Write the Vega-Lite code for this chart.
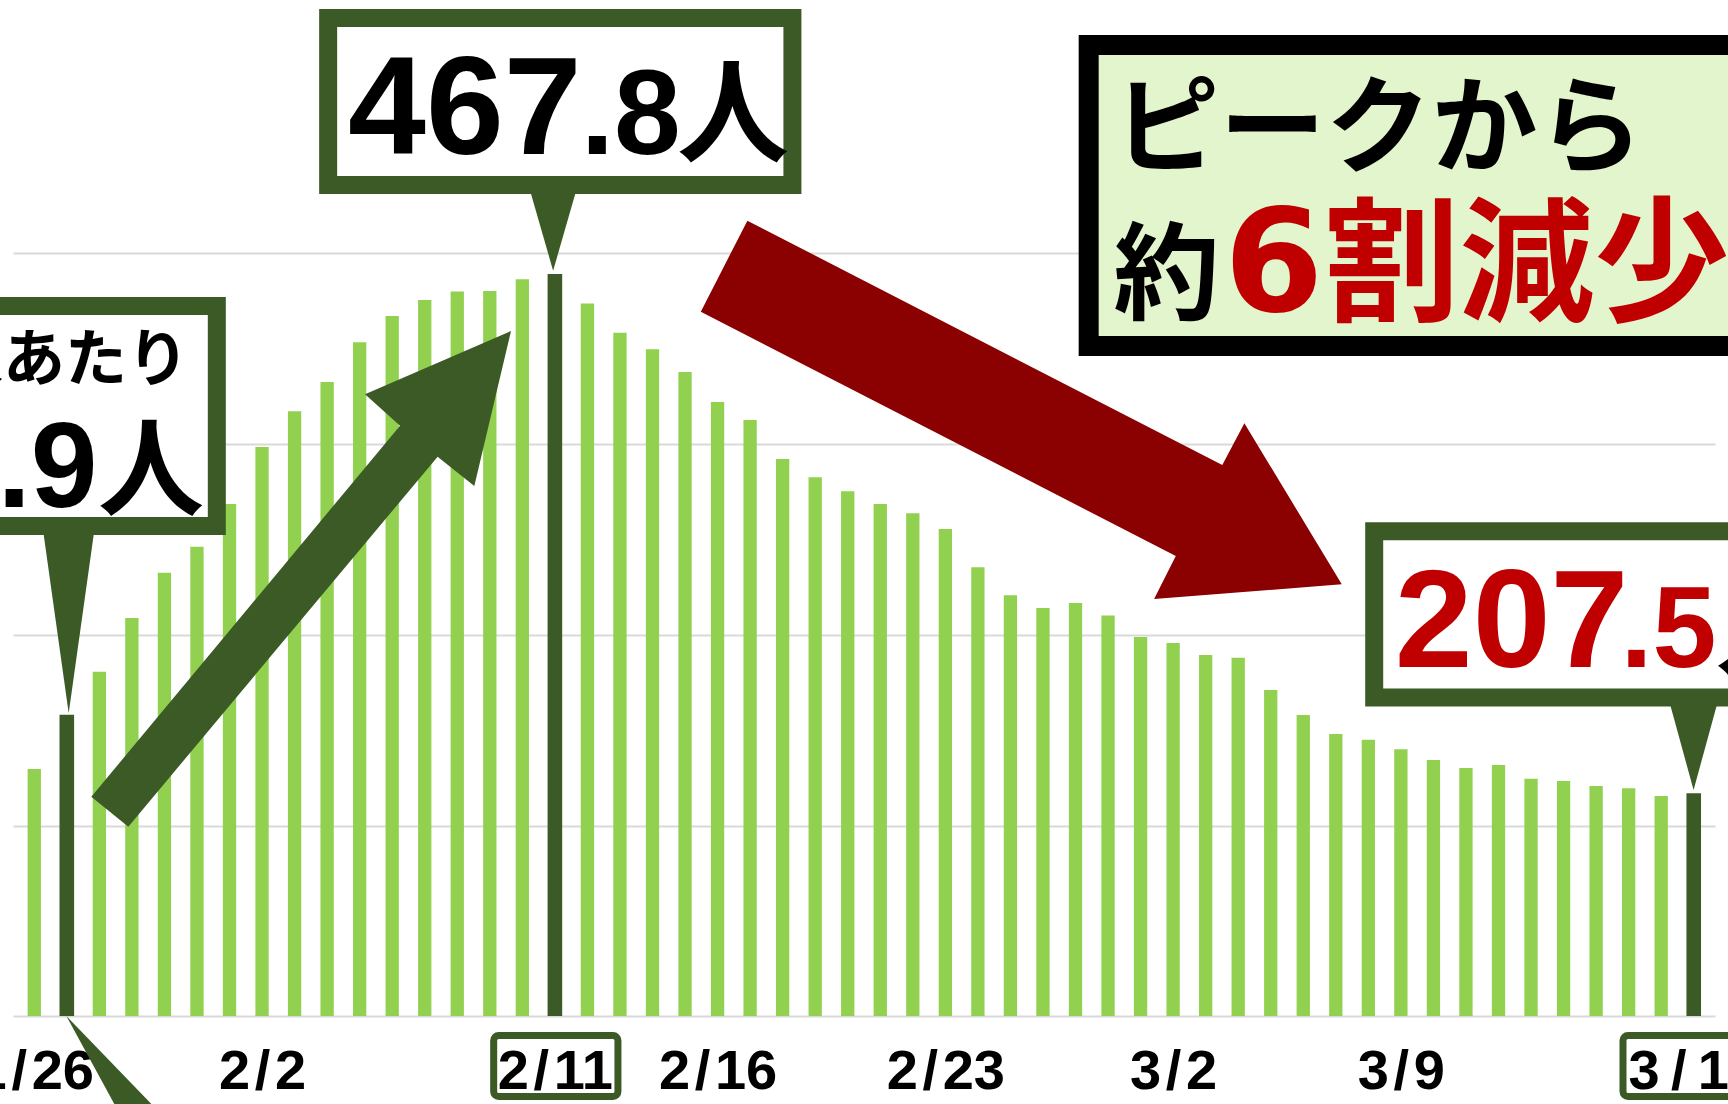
{
  "$schema": "https://vega.github.io/schema/vega-lite/v6.json",
  "width": 1702,
  "height": 1016,
  "autosize": "none",
  "padding": {"left": 13, "top": 0, "right": 13, "bottom": 88},
  "background": "white",
  "config": {"view": {"stroke": null}},
  "datasets": {
    "bars": [
      {"i": 0, "date": "1/26", "v": 219.7, "highlight": "no"},
      {"i": 1, "date": "1/27", "v": 246.9, "highlight": "yes"},
      {"i": 2, "date": "1/28", "v": 268.5, "highlight": "no"},
      {"i": 3, "date": "1/29", "v": 295.4, "highlight": "no"},
      {"i": 4, "date": "1/30", "v": 318.1, "highlight": "no"},
      {"i": 5, "date": "1/31", "v": 331.1, "highlight": "no"},
      {"i": 6, "date": "2/1", "v": 352.5, "highlight": "no"},
      {"i": 7, "date": "2/2", "v": 381.1, "highlight": "no"},
      {"i": 8, "date": "2/3", "v": 399.0, "highlight": "no"},
      {"i": 9, "date": "2/4", "v": 413.7, "highlight": "no"},
      {"i": 10, "date": "2/5", "v": 433.6, "highlight": "no"},
      {"i": 11, "date": "2/6", "v": 446.8, "highlight": "no"},
      {"i": 12, "date": "2/7", "v": 454.8, "highlight": "no"},
      {"i": 13, "date": "2/8", "v": 459.0, "highlight": "no"},
      {"i": 14, "date": "2/9", "v": 459.3, "highlight": "no"},
      {"i": 15, "date": "2/10", "v": 465.2, "highlight": "no"},
      {"i": 16, "date": "2/11", "v": 467.8, "highlight": "yes"},
      {"i": 17, "date": "2/12", "v": 453.1, "highlight": "no"},
      {"i": 18, "date": "2/13", "v": 438.4, "highlight": "no"},
      {"i": 19, "date": "2/14", "v": 430.1, "highlight": "no"},
      {"i": 20, "date": "2/15", "v": 418.7, "highlight": "no"},
      {"i": 21, "date": "2/16", "v": 403.7, "highlight": "no"},
      {"i": 22, "date": "2/17", "v": 394.6, "highlight": "no"},
      {"i": 23, "date": "2/18", "v": 375.1, "highlight": "no"},
      {"i": 24, "date": "2/19", "v": 365.9, "highlight": "no"},
      {"i": 25, "date": "2/20", "v": 358.9, "highlight": "no"},
      {"i": 26, "date": "2/21", "v": 352.5, "highlight": "no"},
      {"i": 27, "date": "2/22", "v": 347.9, "highlight": "no"},
      {"i": 28, "date": "2/23", "v": 340.0, "highlight": "no"},
      {"i": 29, "date": "2/24", "v": 320.8, "highlight": "no"},
      {"i": 30, "date": "2/25", "v": 306.8, "highlight": "no"},
      {"i": 31, "date": "2/26", "v": 300.4, "highlight": "no"},
      {"i": 32, "date": "2/27", "v": 302.9, "highlight": "no"},
      {"i": 33, "date": "2/28", "v": 296.7, "highlight": "no"},
      {"i": 34, "date": "3/1", "v": 285.9, "highlight": "no"},
      {"i": 35, "date": "3/2", "v": 282.9, "highlight": "no"},
      {"i": 36, "date": "3/3", "v": 276.9, "highlight": "no"},
      {"i": 37, "date": "3/4", "v": 275.5, "highlight": "no"},
      {"i": 38, "date": "3/5", "v": 259.3, "highlight": "no"},
      {"i": 39, "date": "3/6", "v": 246.8, "highlight": "no"},
      {"i": 40, "date": "3/7", "v": 237.3, "highlight": "no"},
      {"i": 41, "date": "3/8", "v": 234.4, "highlight": "no"},
      {"i": 42, "date": "3/9", "v": 229.6, "highlight": "no"},
      {"i": 43, "date": "3/10", "v": 224.2, "highlight": "no"},
      {"i": 44, "date": "3/11", "v": 220.2, "highlight": "no"},
      {"i": 45, "date": "3/12", "v": 221.7, "highlight": "no"},
      {"i": 46, "date": "3/13", "v": 214.8, "highlight": "no"},
      {"i": 47, "date": "3/14", "v": 213.7, "highlight": "no"},
      {"i": 48, "date": "3/15", "v": 211.2, "highlight": "no"},
      {"i": 49, "date": "3/16", "v": 210.0, "highlight": "no"},
      {"i": 50, "date": "3/17", "v": 206.2, "highlight": "no"},
      {"i": 51, "date": "3/18", "v": 207.5, "highlight": "yes"}
    ]
  },
  "layer": [
    {
      "data": {"name": "bars"},
      "mark": {"type": "bar"},
      "encoding": {
        "x": {
          "field": "i", "type": "quantitative",
          "scale": {"domain": [-0.5, 51.5], "nice": false, "zero": false},
          "axis": {
            "values": [0, 7, 16, 21, 28, 35, 42, 51],
            "labelExpr": "datum.value==0?'1\u200a/\u200a26':datum.value==7?'2\u200a/\u200a2':datum.value==16?'2\u200a/\u200a11':datum.value==21?'2\u200a/\u200a16':datum.value==28?'2\u200a/\u200a23':datum.value==35?'3\u200a/\u200a2':datum.value==42?'3\u200a/\u200a9':'3\u2009/\u200918'",
            "title": null, "ticks": false, "tickSize": 0, "grid": false,
            "domainColor": "#d9d9d9", "domainWidth": 2,
            "labelFont": "Liberation Sans",
            "labelFontSize": 56, "labelFontWeight": "bold", "labelColor": "#000000",
            "labelPadding": 72, "labelBaseline": "alphabetic",
            "labelFlush": false, "labelOverlap": false, "labelBound": false
          }
        },
        "y": {
          "field": "v", "type": "quantitative",
          "scale": {"domain": [95.9, 605.17], "nice": false, "zero": false},
          "axis": {
            "values": [191.1, 286.9, 382.6, 478.35],
            "grid": true, "gridColor": "#d9d9d9", "gridWidth": 2,
            "labels": false, "ticks": false, "domain": false, "title": null
          }
        },
        "y2": {"datum": 95.9},
        "color": {"field": "highlight", "type": "nominal", "scale": {"domain": ["no", "yes"], "range": ["#92d050", "#3b5a25"]}, "legend": null},
        "size": {"field": "highlight", "type": "ordinal", "scale": {"domain": ["no", "yes"], "range": [13.3, 14.6]}, "legend": null}
      }
    },
    {
      "data": {"values": [{}]},
      "mark": {"type": "rect", "fill": "transparent", "stroke": "#3b5a25", "strokeWidth": 7, "cornerRadius": 5},
      "encoding": {"x": {"datum": 14.119}, "x2": {"datum": 17.938}, "y": {"datum": 86.13}, "y2": {"datum": 55.55}}
    },
    {
      "data": {"values": [{}]},
      "mark": {"type": "rect", "fill": "transparent", "stroke": "#3b5a25", "strokeWidth": 7, "cornerRadius": 5},
      "encoding": {"x": {"datum": 48.826}, "x2": {"datum": 53.13}, "y": {"datum": 86.13}, "y2": {"datum": 55.55}}
    },
    {
      "data": {"values": [{}]},
      "mark": {"type": "point", "shape": "M-0.966,-1L0.124,1L0.966,1Z", "size": 15376, "filled": true, "color": "#3b5a25", "opacity": 1, "strokeWidth": 0},
      "encoding": {"x": {"datum": 2.827}, "y": {"datum": 64.82}}
    },
    {
      "data": {"values": [{}]},
      "mark": {"type": "point", "shape": "M-0.8394,0.8714L0.3954,-0.6126L0.2554,-0.7382L0.8394,-0.9914L0.6926,-0.3714L0.5458,-0.4886L-0.6914,0.9914Z", "size": 250000, "filled": true, "color": "#3b5a25", "opacity": 1, "strokeWidth": 0},
      "encoding": {"x": {"datum": 8.2027}, "y": {"datum": 315.02}}
    },
    {
      "data": {"values": [{}]},
      "mark": {"type": "rect", "fill": "white", "stroke": "#3b5a25", "strokeWidth": 18},
      "encoding": {"x": {"datum": -3.95}, "x2": {"datum": 5.61}, "y": {"datum": 451.8}, "y2": {"datum": 341.5}}
    },
    {
      "data": {"values": [{}]},
      "mark": {"type": "point", "shape": "M-0.28,-1L0.28,-1L0,1Z", "size": 35081, "filled": true, "color": "#3b5a25", "opacity": 1, "strokeWidth": 0},
      "encoding": {"x": {"datum": 1.058}, "y": {"datum": 294.57}}
    },
    {
      "data": {"values": [{}]},
      "mark": {"type": "text", "text": "人口10万人あたり", "font": "Noto Sans CJK JP", "fontWeight": "bold", "fontSize": 62, "align": "right", "baseline": "alphabetic", "color": "#000000"},
      "encoding": {"x": {"datum": 4.755}, "y": {"datum": 414.2}}
    },
    {
      "data": {"values": [{}]},
      "mark": {"type": "text", "text": "246", "font": "Liberation Sans", "fontWeight": "bold", "fontSize": 140, "align": "right", "baseline": "alphabetic", "color": "#000000"},
      "encoding": {"x": {"datum": -1.111}, "y": {"datum": 351.04}}
    },
    {
      "data": {"values": [{}]},
      "mark": {"type": "text", "text": ".9", "font": "Liberation Sans", "fontWeight": "bold", "fontSize": 120, "align": "right", "baseline": "alphabetic", "color": "#000000"},
      "encoding": {"x": {"datum": 1.944}, "y": {"datum": 351.04}}
    },
    {
      "data": {"values": [{}]},
      "mark": {"type": "text", "text": "人", "font": "Noto Sans CJK JP", "fontWeight": "bold", "fontSize": 106, "align": "right", "baseline": "alphabetic", "color": "#000000"},
      "encoding": {"x": {"datum": 5.213}, "y": {"datum": 351.04}}
    },
    {
      "data": {"values": [{}]},
      "mark": {"type": "rect", "fill": "white", "stroke": "#3b5a25", "strokeWidth": 18},
      "encoding": {"x": {"datum": 9.032}, "x2": {"datum": 23.30}, "y": {"datum": 596.15}, "y2": {"datum": 512.43}}
    },
    {
      "data": {"values": [{}]},
      "mark": {"type": "point", "shape": "M-0.576,-1L0.576,-1L0,1Z", "size": 7174, "filled": true, "color": "#3b5a25", "opacity": 1, "strokeWidth": 0},
      "encoding": {"x": {"datum": 15.946}, "y": {"datum": 490.71}}
    },
    {
      "data": {"values": [{}]},
      "mark": {"type": "text", "text": "467", "font": "Liberation Sans", "fontWeight": "bold", "fontSize": 140, "align": "left", "baseline": "alphabetic", "color": "#000000"},
      "encoding": {"x": {"datum": 9.643}, "y": {"datum": 527.98}}
    },
    {
      "data": {"values": [{}]},
      "mark": {"type": "text", "text": ".8", "font": "Liberation Sans", "fontWeight": "bold", "fontSize": 120, "align": "left", "baseline": "alphabetic", "color": "#000000"},
      "encoding": {"x": {"datum": 16.793}, "y": {"datum": 527.98}}
    },
    {
      "data": {"values": [{}]},
      "mark": {"type": "text", "text": "人", "font": "Noto Sans CJK JP", "fontWeight": "bold", "fontSize": 112, "align": "left", "baseline": "alphabetic", "color": "#000000"},
      "encoding": {"x": {"datum": 19.756}, "y": {"datum": 527.98}}
    },
    {
      "data": {"values": [{}]},
      "mark": {"type": "point", "shape": "M-0.8533,-0.5893L0.6262,0.1718L0.6950,0.0416L0.9984,0.5435L0.4137,0.5893L0.4813,0.4553L-0.9984,-0.3058Z", "size": 412164, "filled": true, "color": "#8b0000", "opacity": 1, "strokeWidth": 0},
      "encoding": {"x": {"datum": 30.334}, "y": {"datum": 399.73}}
    },
    {
      "data": {"values": [{}]},
      "mark": {"type": "rect", "fill": "#e3f5cc", "stroke": "#000000", "strokeWidth": 20},
      "encoding": {"x": {"datum": 32.405}, "x2": {"datum": 54.5}, "y": {"datum": 582.6}, "y2": {"datum": 431.7}}
    },
    {
      "data": {"values": [{}]},
      "mark": {"type": "text", "text": "ピークから", "font": "Noto Sans CJK JP", "fontWeight": "bold", "fontSize": 106, "align": "left", "baseline": "alphabetic", "color": "#000000"},
      "encoding": {"x": {"datum": 33.169}, "y": {"datum": 522.73}}
    },
    {
      "data": {"values": [{}]},
      "mark": {"type": "text", "text": "約", "font": "Noto Sans CJK JP", "fontWeight": "bold", "fontSize": 106, "align": "left", "baseline": "alphabetic", "color": "#000000"},
      "encoding": {"x": {"datum": 33.169}, "y": {"datum": 449.28}}
    },
    {
      "data": {"values": [{}]},
      "mark": {"type": "text", "text": "6", "font": "DejaVu Sans", "fontWeight": "bold", "fontSize": 143, "align": "left", "baseline": "alphabetic", "color": "#c00000"},
      "encoding": {"x": {"datum": 36.56}, "y": {"datum": 449.28}}
    },
    {
      "data": {"values": [{}]},
      "mark": {"type": "text", "text": "割減少", "font": "Noto Sans CJK JP", "fontWeight": "bold", "fontSize": 135, "align": "left", "baseline": "alphabetic", "color": "#c00000"},
      "encoding": {"x": {"datum": 39.646}, "y": {"datum": 449.28}}
    },
    {
      "data": {"values": [{}]},
      "mark": {"type": "rect", "fill": "white", "stroke": "#3b5a25", "strokeWidth": 18},
      "encoding": {"x": {"datum": 41.18}, "x2": {"datum": 54.5}, "y": {"datum": 338.9}, "y2": {"datum": 255.55}}
    },
    {
      "data": {"values": [{}]},
      "mark": {"type": "point", "shape": "M-0.548,-1L0.548,-1L0,1Z", "size": 8464, "filled": true, "color": "#3b5a25", "opacity": 1, "strokeWidth": 0},
      "encoding": {"x": {"datum": 50.995}, "y": {"datum": 232.24}}
    },
    {
      "data": {"values": [{}]},
      "mark": {"type": "text", "text": "207", "font": "Liberation Sans", "fontWeight": "bold", "fontSize": 140, "align": "left", "baseline": "alphabetic", "color": "#c00000"},
      "encoding": {"x": {"datum": 41.815}, "y": {"datum": 270.99}}
    },
    {
      "data": {"values": [{}]},
      "mark": {"type": "text", "text": ".5", "font": "Liberation Sans", "fontWeight": "bold", "fontSize": 115, "align": "left", "baseline": "alphabetic", "color": "#c00000"},
      "encoding": {"x": {"datum": 48.75}, "y": {"datum": 270.99}}
    },
    {
      "data": {"values": [{}]},
      "mark": {"type": "text", "text": "人", "font": "Noto Sans CJK JP", "fontWeight": "bold", "fontSize": 106, "align": "left", "baseline": "alphabetic", "color": "#000000"},
      "encoding": {"x": {"datum": 51.68}, "y": {"datum": 270.99}}
    }
  ]
}
